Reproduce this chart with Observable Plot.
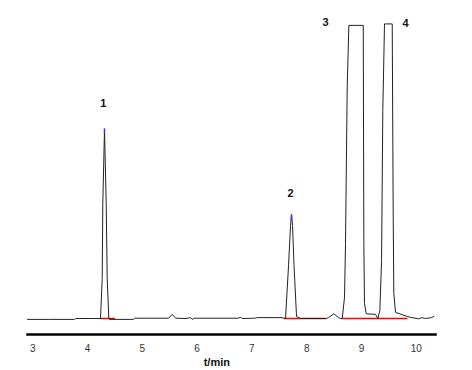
<!DOCTYPE html>
<html>
<head>
<meta charset="utf-8">
<script src="https://cdn.jsdelivr.net/npm/d3@7"></script>
<script src="https://cdn.jsdelivr.net/npm/@observablehq/plot@0.6"></script>
<style>
  html, body { margin: 0; padding: 0; background: #fff; }
  #chart { width: 472px; height: 370px; }
</style>
</head>
<body>
<div id="chart"></div>
<script>
// Chromatogram trace: retention time (min) vs detector signal (relative units)
const timeMin = [
  2.903, 3.30, 3.76, 3.78, 4.10, 4.236, 4.267, 4.278, 4.309, 4.340, 4.358, 4.388, 4.40,
  4.84, 4.86, 5.10, 5.48, 5.545, 5.61, 5.80, 5.88, 5.91, 5.95, 6.75, 6.79, 6.83, 7.05,
  7.10, 7.55, 7.614, 7.669, 7.705, 7.723, 7.742, 7.769, 7.815, 7.888, 8.36, 8.398,
  8.496, 8.582, 8.619, 8.649, 8.691, 8.709, 8.740, 8.770, 9.033, 9.044, 9.056, 9.087,
  9.257, 9.299, 9.336, 9.367, 9.390, 9.421, 9.562, 9.580, 9.591, 9.622, 9.836, 9.897,
  10.043, 10.10, 10.17, 10.28, 10.322
];
const signal = [
  -0.3, -0.3, -0.3, 0.0, 0.0, 0.0, 13.6, 39.1, 64.5, 39.1, 13.6, 0.0, -0.3,
  -0.3, 0.1, 0.1, 0.1, 1.4, 0.1, 0.0, 0.3, -0.3, 0.1, 0.1, 0.4, 0.0, 0.1,
  0.3, 0.3, 0.0, 18.0, 31.6, 35.3, 31.6, 18.0, 0.7, 0.0, 0.0, 0.3,
  1.6, 0.3, 0.0, 0.0, 7.2, 25.5, 78.7, 99.7, 99.7, 25.5, 5.1, 1.6,
  1.4, 0.0, 2.7, 19.7, 70.7, 100.2, 100.2, 34.5, 8.5, 2.1, 0.7, 0.4,
  -0.1, 0.3, 0.0, 0.3, 0.7
];

// Integration baselines (red)
const baseStart = [4.236, 7.60, 8.649];
const baseEnd = [4.51, 8.36, 9.85];

// Peak apex markers (blue tips)
const tipTime = [4.309, 7.723];
const tipTop = [64.5, 35.3];
const tipBottom = [62.9, 33.3];

// Peak labels
const peakNames = ["1", "2", "3", "4"];
const peakLabelTime = [4.285, 7.705, 8.344, 9.805];
const peakLabelSignal = [73.0, 42.4, 100.8, 100.2];

// Axis
const xTicks = [3, 4, 5, 6, 7, 8, 9, 10];
const xLabel = "t/min";
const xLabelTime = 6.36;

const trace = timeMin.map((t, i) => ({t, v: signal[i]}));
const bases = baseStart.map((s, i) => ({s, e: baseEnd[i]}));
const tips = tipTime.map((t, i) => ({t, y1: tipBottom[i], y2: tipTop[i]}));
const labels = peakNames.map((n, i) => ({n, t: peakLabelTime[i], v: peakLabelSignal[i]}));

const chart = Plot.plot({
  width: 472,
  height: 370,
  marginLeft: 27,
  marginRight: 37,
  marginTop: 24,
  marginBottom: 36,
  style: {fontFamily: "'Liberation Sans', Arial, sans-serif", background: "#fff", overflow: "visible"},
  x: {domain: [2.903, 10.352]},
  y: {domain: [-5.44, 100], axis: null},
  marks: [
    Plot.ruleY(bases, {x1: "s", x2: "e", y: 0, stroke: "#ff0000", strokeWidth: 1.5}),
    Plot.line(trace, {x: "t", y: "v", stroke: "#222", strokeWidth: 1, curve: "linear"}),
    Plot.ruleX(tips, {x: "t", y1: "y1", y2: "y2", stroke: "#3a3aff", strokeWidth: 1.5}),
    Plot.text(labels, {x: "t", y: "v", text: "n", fontWeight: "bold", fontSize: 11, fill: "#111", lineAnchor: "middle"}),
    Plot.frame({anchor: "bottom", stroke: "#000", strokeWidth: 2.5}),
    Plot.axisX({ticks: xTicks, tickSize: 0, tickPadding: 10, fontSize: 10, fill: "#333", label: null, tickFormat: d => String(d)}),
    Plot.text([xLabel], {x: xLabelTime, frameAnchor: "bottom", dy: 28, text: d => d, fontWeight: "bold", fontSize: 11, fill: "#111", lineAnchor: "middle"})
  ]
});
document.getElementById("chart").appendChild(chart);
</script>
</body>
</html>
